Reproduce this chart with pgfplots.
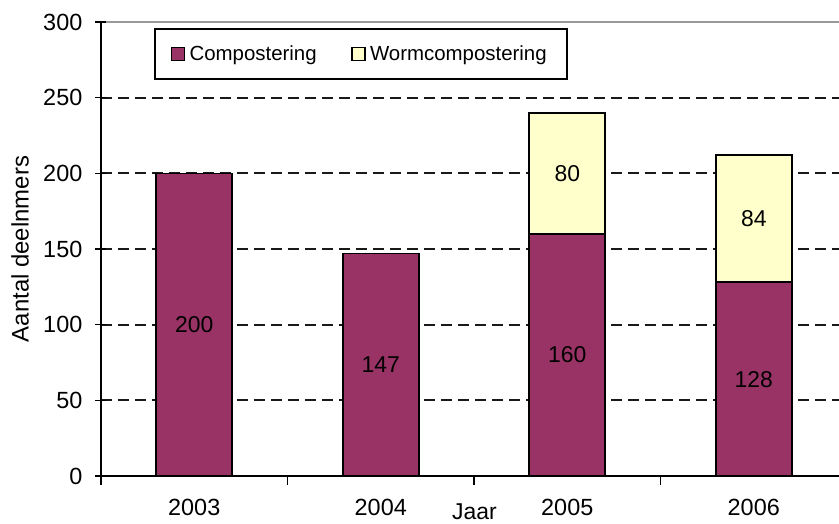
\documentclass[border=0pt]{standalone}
\usepackage{pgfplots}
\pgfplotsset{compat=1.18}
\usepackage{fontspec}
\setmainfont{Liberation Sans}
\definecolor{barmaroon}{HTML}{993366}
\definecolor{paleyellow}{HTML}{FFFFCC}
\begin{document}
\begin{tikzpicture}
\useasboundingbox (-101bp,-48bp) rectangle (738bp,476bp);
\begin{axis}[
  at={(0,0)}, anchor=south west,
  scale only axis, width=738bp, height=454bp,
  xmin=-0.5, xmax=3.457, ymin=0, ymax=300,
  axis x line*=bottom, axis y line*=left,
  axis line style={line width=1.6bp, black, -},
  xtick={0,1,2,3}, xticklabels={2003,2004,2005,2006},
  minor xtick={-0.5,0.5,1.5,2.5},
  major x tick style={draw=none},
  minor x tick style={line width=1.6bp, black},
  minor tick length=9bp,
  major tick length=11bp,
  xtick align=outside, ytick align=center,
  ytick={0,50,...,250},
  extra y ticks={300}, extra y tick style={grid=none},
  major y tick style={line width=1.6bp, black},
  ymajorgrids,
  major grid style={line width=1.9bp, black!90, dash pattern=on 11bp off 6bp},
  /pgf/number format/assume math mode=true,
  tick label style={font=\fontsize{23.5}{26}\selectfont, black},
  yticklabel style={inner sep=0pt, anchor=east, xshift=-13bp},
  xticklabel style={inner sep=0pt, anchor=north, yshift=-12bp},
  xlabel={Jaar},
  xlabel style={at={(axis description cs:0.506,0)}, anchor=north, inner sep=0pt, yshift=-28bp, font=\fontsize{23}{26}\selectfont},
  ylabel={Aantal deelnmers},
  ylabel style={at={(axis description cs:-0.1098,0.5)}, rotate=0, anchor=center, inner sep=0pt, font=\fontsize{24}{26}\selectfont},
  legend columns=2,
  legend image code/.code={\draw[#1, draw=black, line width=1.3bp] (0bp,-6.5bp) rectangle (13bp,6.5bp);},
  legend style={at={(0.0718,0.9868)}, anchor=north west, draw=black, line width=1.6bp,
    font=\fontsize{20.5}{22}\selectfont, inner xsep=16bp, inner ysep=14bp,
    nodes={inner xsep=4.5bp, inner ysep=3bp},
    /tikz/every even column/.append style={column sep=30bp}},
]
\addlegendimage{fill=barmaroon}
\addlegendentry{Compostering}
\addlegendimage{fill=paleyellow}
\addlegendentry{Wormcompostering}
% totals (Compostering + Wormcompostering) drawn first, yellow
\addplot[ybar, bar shift=0pt, bar width=0.4075, fill=paleyellow, draw=black, line width=1.6bp, forget plot]
  coordinates {(2,240) (3,212)};
% Compostering
\addplot[ybar, bar shift=0pt, bar width=0.4075, fill=barmaroon, draw=black, line width=1.6bp, forget plot]
  coordinates {(0,200) (1,147) (2,160) (3,128)};
% value labels at segment centres
\addplot[only marks, mark=none, forget plot, point meta=explicit symbolic,
  nodes near coords, every node near coord/.append style={anchor=center, inner sep=0pt, font=\fontsize{23}{26}\selectfont, black}]
  coordinates {(0,100)[200] (1,73.5)[147] (2,80)[160] (3,64)[128] (2,200)[80] (3,170)[84]};
\draw[line width=2bp, black!40] ([xshift=5.5bp]rel axis cs:0,1) -- (rel axis cs:1,1);
\end{axis}
\end{tikzpicture}
\end{document}
